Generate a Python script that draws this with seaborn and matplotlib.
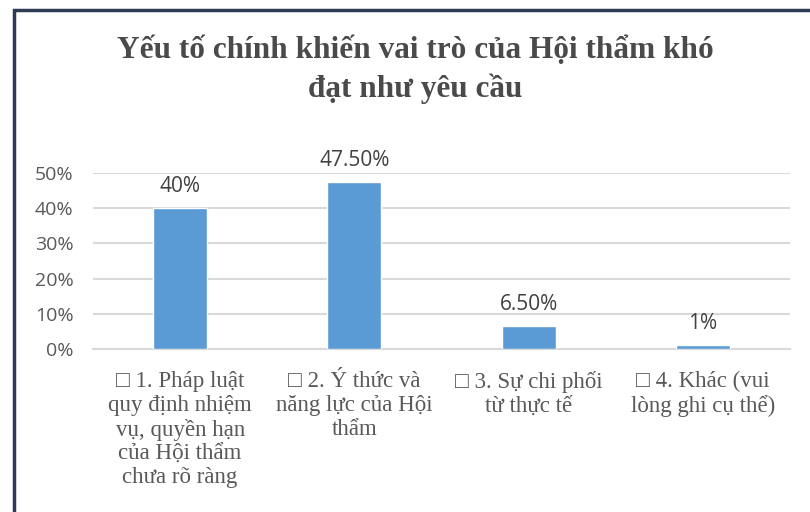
import matplotlib
matplotlib.use("Agg")
import matplotlib.pyplot as plt
import seaborn as sns
import pandas as pd
from matplotlib.patches import Rectangle

categories = [
    "□ 1. Pháp luật\nquy định nhiệm\nvụ, quyền hạn\ncủa Hội thẩm\nchưa rõ ràng",
    "□ 2. Ý thức và\nnăng lực của Hội\nthẩm",
    "□ 3. Sự chi phối\ntừ thực tế",
    "□ 4. Khác (vui\nlòng ghi cụ thể)",
]
values = [0.40, 0.475, 0.065, 0.01]
value_labels = ["40%", "47.50%", "6.50%", "1%"]
yticks = [0, 0.1, 0.2, 0.3, 0.4, 0.5]
ytick_labels = ["0%", "10%", "20%", "30%", "40%", "50%"]
title = "Yếu tố chính khiến vai trò của Hội thẩm khó\nđạt như yêu cầu"

sns.set_theme(style="white")
plt.rcParams['font.family'] = ['Open Sans', 'DejaVu Sans']

df = pd.DataFrame({"cat": categories, "val": values})

fig = plt.figure(figsize=(8.1, 5.12), dpi=100)
fig.patch.set_facecolor("white")
ax = fig.add_axes([93/810, 1-349/512, (790-93)/810, (349-173)/512])

sns.barplot(data=df, x="cat", y="val", color="#5B9BD5", width=0.31,
            saturation=1, ax=ax, zorder=3)
ax.set_ylim(0, 0.5)
ax.set_xlim(-0.5, 3.5)
ax.set_yticks(yticks)
ax.set_yticklabels(ytick_labels, fontsize=14, color="#595959")
ax.set_xlabel("")
ax.set_ylabel("")
ax.set_xticks(range(len(categories)))
ax.set_xticklabels(categories, fontsize=16.5, color="#595959",
                   family=['Liberation Serif', 'DejaVu Serif'],
                   linespacing=1.17, va="top", ha="center")
ax.tick_params(axis="x", length=0, pad=16)
ax.tick_params(axis="y", length=0, pad=14)
ax.grid(axis="y", color="#d9d9d9", linewidth=1.5, zorder=0)
for s in ["top", "right", "left"]:
    ax.spines[s].set_visible(False)
ax.spines["bottom"].set_color("#d9d9d9")
ax.spines["bottom"].set_linewidth(1.5)

for i, (v, lab) in enumerate(zip(values, value_labels)):
    ax.annotate(lab, (i, v), xytext=(0, 8), textcoords="offset points",
                ha="center", va="bottom", fontsize=15, color="#404040")

fig.text(415/810, 1-70/512, title, ha="center", va="center", fontsize=22.5,
         fontweight="bold", color="#4a4a4a",
         family=['Liberation Serif', 'DejaVu Serif'], linespacing=1.35)

fig.patches.append(Rectangle((14/810, -0.1), 1.2, 1-10/512+0.1,
                             transform=fig.transFigure, fill=False,
                             edgecolor="#2f3a55", linewidth=2.5, zorder=10))

fig.savefig("out.png", dpi=100)
